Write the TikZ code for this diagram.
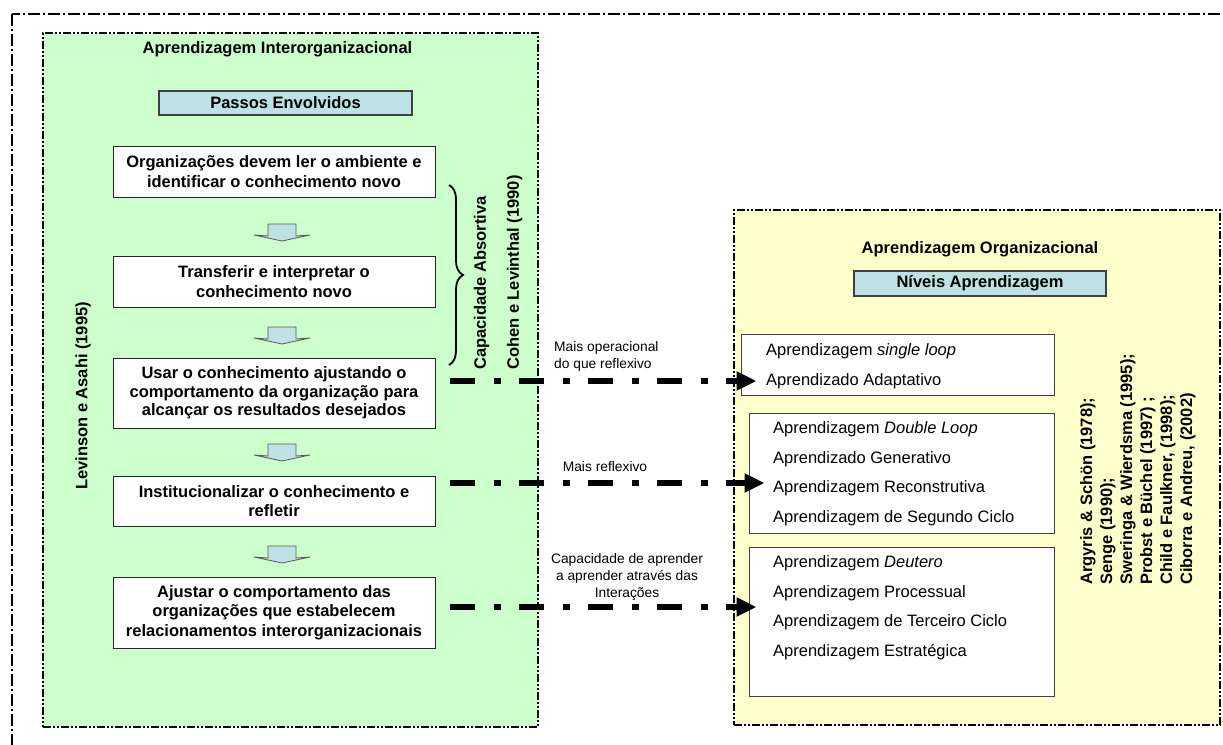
\documentclass[tikz,border=0pt]{standalone}
\usepackage{fontspec}
\setmainfont{Liberation Sans}
\usetikzlibrary{arrows.meta,decorations.pathreplacing}
\definecolor{pgreen}{HTML}{CCFFCC}
\definecolor{pyellow}{HTML}{FFFFCC}
\definecolor{pblue}{HTML}{BDE1E4}
\begin{document}
\begin{tikzpicture}[x=1pt,y=-1pt,
  boldtxt/.style={font=\fontsize{16.5}{19.5}\selectfont\bfseries, inner sep=0pt},
  smalltxt/.style={font=\fontsize{13.8}{17}\selectfont, inner sep=0pt},
  regtxt/.style={font=\fontsize{16.5}{19.5}\selectfont, inner sep=0pt, anchor=west},
  outerborder/.style={draw=black, line width=1.5pt, dash pattern=on 12pt off 3pt on 2pt off 3pt},
  panel/.style={draw=black, line width=1.5pt, dash pattern=on 8pt off 2pt on 2pt off 2pt on 2pt off 2pt, anchor=north west, inner sep=0pt},
  labelbox/.style={draw=black!75, line width=1.3pt, fill=pblue, font=\fontsize{16.5}{19.5}\selectfont\bfseries, inner sep=0pt},
  stepbox/.style={draw=black!85, line width=1pt, fill=white, minimum width=322pt, align=center, inner sep=0pt, font=\fontsize{16.5}{19.5}\selectfont\bfseries},
  levelbox/.style={draw=black!75, line width=1pt, fill=white, inner sep=0pt},
  blockarrow/.style={draw=black!65, line width=0.8pt, fill=pblue},
  flow/.style={line width=6pt, dash pattern=on 25pt off 19pt on 7pt off 18pt, -{Triangle[length=20pt,width=18pt]}}
]
\useasboundingbox (0,0) rectangle (1223,744);
\begin{scope}
  \clip (0,0) rectangle (1223,744);
  \draw[outerborder] (12,14) rectangle (1250,770);
\end{scope}

% panels
\node[panel, fill=pgreen, minimum width=495pt, minimum height=694pt] (green) at (42,32) {};
\node[panel, fill=pyellow, minimum width=486pt, minimum height=515pt] (yellow) at (733,209) {};

% left panel
\node[boldtxt] (gtitle) at (277.5,49) {Aprendizagem Interorganizacional};
\node[labelbox, minimum width=253pt, minimum height=24pt] (passos) at (285.5,103) {Passos Envolvidos};

\node[stepbox, minimum height=51pt] (s1) at (274,171.5) {Organizações devem ler o ambiente e\\identificar o conhecimento novo};
\node[stepbox, minimum height=51pt] (s2) at (274,281.5) {Transferir e interpretar o\\conhecimento novo};
\node[stepbox, minimum height=70pt, font=\fontsize{16.5}{18.5}\selectfont\bfseries] (s3) at (274,393) {Usar o conhecimento ajustando o\\comportamento da organização para\\alcançar os resultados desejados};
\node[stepbox, minimum height=50pt] (s4) at (274,501) {Institucionalizar o conhecimento e\\refletir};
\node[stepbox, minimum height=71pt] (s5) at (274,612.5) {Ajustar o comportamento das\\organizações que estabelecem\\relacionamentos interorganizacionais};

\foreach \t in {224,327,444,546}{
  \draw[blockarrow] (268,\t) -- (296,\t) -- (296,\t+12) -- (310,\t+11) -- (282,\t+17) -- (254,\t+11) -- (268,\t+12) -- cycle;
}

\draw[decorate, decoration={brace, amplitude=14pt}, line width=1.8pt] (449,185) -- (449,365);
\node[boldtxt, rotate=90, anchor=west] (cap) at (481.5,370) {Capacidade Absortiva};
\node[boldtxt, rotate=90, anchor=west] (coh) at (514.5,370) {Cohen e Levinthal (1990)};
\node[boldtxt, rotate=90] (lev) at (83,396) {Levinson e Asahi (1995)};

% right panel
\node[boldtxt] (ytitle) at (980,249) {Aprendizagem Organizacional};
\node[labelbox, minimum width=252pt, minimum height=25pt] (niveis) at (980,283.5) {Níveis Aprendizagem};

\node[levelbox, minimum width=313pt, minimum height=61pt] (boxA) at (897.5,364.5) {};
\node[levelbox, minimum width=305pt, minimum height=120pt] (boxB) at (901.5,473) {};
\node[levelbox, minimum width=305pt, minimum height=149pt] (boxC) at (901.5,621.5) {};

\node[regtxt] (a1) at (766,351) {Aprendizagem \textit{single loop}};
\node[regtxt] (a2) at (766,381) {Aprendizado Adaptativo};
\node[regtxt] (b1) at (773,429) {Aprendizagem \textit{Double Loop}};
\node[regtxt] (b2) at (773,459) {Aprendizado Generativo};
\node[regtxt] (b3) at (773,488) {Aprendizagem Reconstrutiva};
\node[regtxt] (b4) at (773,518) {Aprendizagem de Segundo Ciclo};
\node[regtxt] (c1) at (773,563) {Aprendizagem \textit{Deutero}};
\node[regtxt] (c2) at (773,593) {Aprendizagem Processual};
\node[regtxt] (c3) at (773,622) {Aprendizagem de Terceiro Ciclo};
\node[regtxt] (c4) at (773,652) {Aprendizagem Estratégica};

\node[boldtxt, rotate=90, anchor=north west, align=left, font=\fontsize{16.5}{20}\selectfont\bfseries] (refs) at (1080,585)
  {Argyris \& Schön (1978);\\Senge (1990);\\Sweringa \& Wierdsma (1995);\\Probst e Büchel (1997) ;\\Child e Faulkner, (1998);\\Ciborra e Andreu, (2002)};

% arrow labels
\node[smalltxt, align=left, anchor=west] (l1) at (554,356.5) {Mais operacional\\do que reflexivo};
\node[smalltxt] (l2) at (605,467) {Mais reflexivo};
\node[smalltxt, align=center] (l3) at (627,577) {Capacidade de aprender\\a aprender através das\\Interações};

% flows
\coordinate (f1) at (450,381);
\coordinate (f2) at (450,483);
\coordinate (f3) at (450,607);
\draw[flow] (f1) -- ([xshift=16pt]boxA.west |- f1);
\draw[flow] (f2) -- ([xshift=16pt]boxB.west |- f2);
\draw[flow] (f3) -- ([xshift=8pt]boxC.west |- f3);
\end{tikzpicture}
\end{document}
